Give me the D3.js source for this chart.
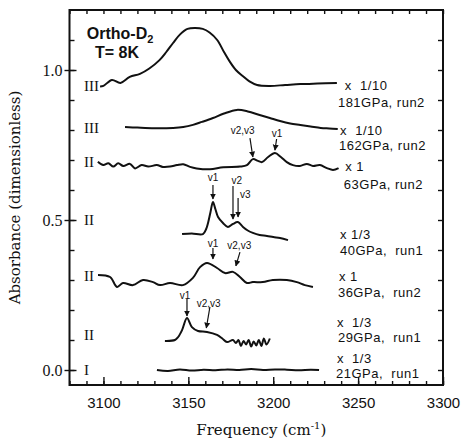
<!DOCTYPE html>
<html>
<head>
<meta charset="utf-8">
<title>Ortho-D2 absorbance</title>
<script src="https://d3js.org/d3.v7.min.js"></script>
<style>
  body { margin: 0; background: #fff; }
  text { fill: #111; }
</style>
</head>
<body>
<div id="graph"></div>
<script>
// spectra: frequency (cm-1) and absorbance incl. vertical offset
var f181 = [3098, 3100, 3105, 3110, 3115.5, 3121.5, 3127, 3133, 3137, 3141, 3145, 3149.5, 3154, 3158.5, 3162.5, 3167, 3171, 3174.5, 3178, 3182, 3186, 3190.5, 3198, 3207, 3216, 3226, 3237.5];
var a181 = [0.945, 0.947, 0.967, 0.957, 0.977, 0.987, 1.005, 1.033, 1.06, 1.09, 1.118, 1.137, 1.14, 1.137, 1.125, 1.1, 1.06, 1.027, 1.0, 0.98, 0.962, 0.95, 0.947, 0.95, 0.953, 0.955, 0.957];

var f162 = [3112.7, 3120, 3130, 3141, 3147, 3152.7, 3158, 3164.5, 3171, 3178.6, 3185, 3192, 3198, 3204, 3210, 3216, 3222, 3228, 3233, 3238];
var a162 = [0.81, 0.808, 0.806, 0.807, 0.81, 0.817, 0.827, 0.84, 0.855, 0.867, 0.862, 0.85, 0.84, 0.83, 0.822, 0.817, 0.812, 0.807, 0.805, 0.803];

var f63 = [3096.7, 3099.9, 3102.9, 3105.8, 3108.7, 3111.7, 3115.6, 3118.6, 3122.5, 3126.4, 3131.4, 3135, 3139.2, 3143.3, 3147, 3151, 3154.9, 3162.7, 3170.6, 3180.4, 3184.5, 3188, 3191, 3193.4, 3197, 3201, 3204.5, 3208, 3211.6, 3215.7, 3219.8, 3223.4, 3227.5, 3231.6, 3235.2, 3238.5];
var a63 = [0.694, 0.683, 0.689, 0.678, 0.689, 0.68, 0.687, 0.672, 0.683, 0.678, 0.683, 0.677, 0.678, 0.683, 0.686, 0.677, 0.672, 0.669, 0.676, 0.678, 0.683, 0.703, 0.697, 0.693, 0.71, 0.723, 0.71, 0.693, 0.683, 0.68, 0.687, 0.68, 0.683, 0.673, 0.667, 0.673];

var f40 = [3146.3, 3152, 3158.6, 3160.5, 3161.6, 3163, 3164.5, 3166, 3167.5, 3170.4, 3173.3, 3176.3, 3179.2, 3182.2, 3185, 3188, 3192, 3196.3, 3200, 3204, 3208.7];
var a40 = [0.453, 0.455, 0.453, 0.47, 0.49, 0.525, 0.56, 0.535, 0.51, 0.49, 0.477, 0.487, 0.493, 0.477, 0.465, 0.457, 0.45, 0.447, 0.443, 0.44, 0.433];

var f36 = [3096.8, 3103.9, 3108, 3111.5, 3117.4, 3123.3, 3129.2, 3133.3, 3139.2, 3146.8, 3152.7, 3156.9, 3161, 3166.9, 3171.6, 3176.3, 3180.4, 3184.5, 3188, 3193.9, 3199.8, 3208, 3213.9, 3218.6, 3223.4];
var a36 = [0.317, 0.31, 0.277, 0.29, 0.283, 0.3, 0.293, 0.283, 0.29, 0.283, 0.307, 0.343, 0.357, 0.34, 0.323, 0.327, 0.31, 0.29, 0.293, 0.293, 0.3, 0.3, 0.293, 0.283, 0.277];

var f29 = [3136.2, 3142.1, 3144, 3146.3, 3149.2, 3152.1, 3155.7, 3161, 3166.9, 3170, 3172.8, 3176.3, 3178, 3179.5, 3181, 3182.5, 3184, 3185.5, 3187, 3188.5, 3190, 3191.5, 3193, 3194.5, 3196, 3198];
var a29 = [0.097, 0.1, 0.11, 0.133, 0.173, 0.143, 0.13, 0.127, 0.117, 0.105, 0.093, 0.1, 0.09, 0.1, 0.08, 0.097, 0.085, 0.1, 0.078, 0.095, 0.082, 0.1, 0.08, 0.105, 0.085, 0.105];

var f21 = [3131.5, 3138, 3145, 3152, 3159, 3166, 3173, 3180, 3187, 3194, 3201, 3208, 3215, 3222, 3227];
var a21 = [0.0, -0.003, 0.002, -0.002, 0.001, -0.001, 0.002, 0.0, 0.003, 0.0, 0.002, 0.001, -0.001, 0.001, 0.0];

// phase label, scale factor and run for each trace
var phases = ["III", "III", "II", "II", "II", "II", "I"];
var phaseLevel = [0.947, 0.807, 0.693, 0.5, 0.313, 0.117, 0.0];
var factors = ["x  1/10", "x  1/10", "x 1", "x 1/3", "x 1", "x  1/3", "x  1/3"];
var factorF = [3242.2, 3239.3, 3242.4, 3239.3, 3238.7, 3237.5, 3237.5];
var factorLevel = [0.95, 0.8, 0.678, 0.452, 0.313, 0.16, 0.04];
var runs = ["181GPa, run2", "162GPa, run2", "63GPa, run2", "40GPa,  run1", "36GPa,  run2", "29GPa,  run1", "21GPa,  run1"];
var runF = [3238.1, 3238.7, 3241.6, 3239.3, 3238.1, 3238.1, 3237];
var runLevel = [0.893, 0.747, 0.617, 0.4, 0.258, 0.107, -0.013];

// vibron arrows: label, label position, arrow tail and tip
var vLabels = ["v1", "v2,v3", "v1", "v2", "v3", "v1", "v2,v3", "v1", "v2,v3"];
var vLabelF = [3202.2, 3182, 3164.5, 3178.6, 3183.6, 3164.5, 3180, 3148, 3162];
var vLabelA = [0.79, 0.8, 0.643, 0.633, 0.587, 0.423, 0.417, 0.25, 0.223];
var vTailF = [3202, 3186.3, 3164.5, 3176.3, 3179.3, 3164.5, 3180.4, 3149.2, 3162.7];
var vTailA = [0.77, 0.773, 0.617, 0.613, 0.573, 0.407, 0.393, 0.237, 0.21];
var vTipF = [3201, 3188, 3164.5, 3176.3, 3179.3, 3164.5, 3178, 3149.2, 3160.6];
var vTipA = [0.733, 0.71, 0.57, 0.503, 0.51, 0.37, 0.347, 0.18, 0.14];

var xTicks = [3100, 3150, 3200, 3250, 3300];
var yTicks = [0.0, 0.5, 1.0];

var margin = {top: 10, right: 18, bottom: 53, left: 69.5};
var width = 461 - margin.left - margin.right;
var height = 438 - margin.top - margin.bottom;

var svg = d3.select("#graph")
    .append("svg")
    .attr("width", 461)
    .attr("height", 438)
    .append("g")
    .attr("transform", "translate(" + margin.left + "," + margin.top + ")");

var x = d3.scaleLinear().domain([3080, 3300]).range([0, width]);
var y = d3.scaleLinear().domain([-0.05, 1.2]).range([height, 0]);

var minorX = d3.range(3080, 3301, 10);
var minorY = d3.range(0, 1.15, 0.1);

// minor ticks, inside the frame on all four sides
svg.append("g").attr("transform", "translate(0," + height + ")")
    .call(d3.axisBottom(x).tickValues(minorX).tickSizeInner(-4).tickSizeOuter(0).tickFormat(""));
svg.append("g")
    .call(d3.axisTop(x).tickValues(minorX).tickSizeInner(-4).tickSizeOuter(0).tickFormat(""));
svg.append("g")
    .call(d3.axisLeft(y).tickValues(minorY).tickSizeInner(-5).tickSizeOuter(0).tickFormat(""));
svg.append("g").attr("transform", "translate(" + width + ",0)")
    .call(d3.axisRight(y).tickValues(minorY).tickSizeInner(-5).tickSizeOuter(0).tickFormat(""));

// major ticks with labels
var xAxis = svg.append("g").attr("transform", "translate(0," + height + ")")
    .call(d3.axisBottom(x).tickValues(xTicks).tickSizeInner(-8).tickSizeOuter(0).tickPadding(12)
        .tickFormat(d3.format("d")));
xAxis.selectAll("text")
    .style("font-family", "'Liberation Sans', Arial, sans-serif")
    .style("font-size", "15px");

var yAxis = svg.append("g")
    .call(d3.axisLeft(y).tickValues(yTicks).tickSizeInner(5).tickSizeOuter(0).tickPadding(2)
        .tickFormat(d3.format(".1f")));
yAxis.selectAll("text")
    .style("font-family", "'Liberation Serif', 'Times New Roman', serif")
    .style("font-size", "16px");
yAxis.selectAll(".tick line").attr("x2", 7).attr("x1", -5);

svg.selectAll(".domain").remove();
svg.selectAll(".tick line").attr("stroke", "#111").attr("stroke-width", 1.4);

// frame
svg.append("rect")
    .attr("width", width).attr("height", height)
    .attr("fill", "none").attr("stroke", "#111").attr("stroke-width", 2);

// spectra
var traces = [[f181, a181], [f162, a162], [f63, a63], [f40, a40], [f36, a36], [f29, a29], [f21, a21]];
var line = d3.line()
    .x(function(d) { return x(d[0]); })
    .y(function(d) { return y(d[1]); })
    .curve(d3.curveCatmullRom.alpha(0.5));

svg.append("g").selectAll("path")
    .data(traces)
    .enter()
    .append("path")
    .attr("d", function(t) { return line(t[0].map(function(f, i) { return [f, t[1][i]]; })); })
    .attr("fill", "none")
    .attr("stroke", "#111")
    .attr("stroke-width", 2)
    .attr("stroke-linejoin", "round");

// phase labels on the left
svg.append("g").selectAll("text")
    .data(phases)
    .enter()
    .append("text")
    .attr("x", x(3088.5))
    .attr("y", function(d, i) { return y(phaseLevel[i]) + 5; })
    .style("font-family", "'Liberation Serif', 'Times New Roman', serif")
    .style("font-size", "15px")
    .text(function(d) { return d; });

// scale factor and pressure labels on the right
var sans = "'Liberation Sans', Arial, sans-serif";
svg.append("g").selectAll("text")
    .data(factors)
    .enter()
    .append("text")
    .attr("x", function(d, i) { return x(factorF[i]); })
    .attr("y", function(d, i) { return y(factorLevel[i]) + 4.5; })
    .style("font-family", sans)
    .style("font-size", "13px")
    .style("letter-spacing", "0.5px")
    .style("white-space", "pre")
    .text(function(d) { return d; });

svg.append("g").selectAll("text")
    .data(runs)
    .enter()
    .append("text")
    .attr("x", function(d, i) { return x(runF[i]); })
    .attr("y", function(d, i) { return y(runLevel[i]) + 4.5; })
    .style("font-family", sans)
    .style("font-size", "13px")
    .style("letter-spacing", "0.5px")
    .style("white-space", "pre")
    .text(function(d) { return d; });

// arrows marking the vibron modes
svg.append("defs").append("marker")
    .attr("id", "head")
    .attr("viewBox", "0 0 10 10")
    .attr("refX", 9).attr("refY", 5)
    .attr("markerWidth", 6).attr("markerHeight", 7)
    .attr("markerUnits", "userSpaceOnUse")
    .attr("orient", "auto")
    .append("path")
    .attr("d", "M0,0 L10,5 L0,10 z")
    .attr("fill", "#111");

svg.append("g").selectAll("line")
    .data(vLabels)
    .enter()
    .append("line")
    .attr("x1", function(d, i) { return x(vTailF[i]); })
    .attr("y1", function(d, i) { return y(vTailA[i]); })
    .attr("x2", function(d, i) { return x(vTipF[i]); })
    .attr("y2", function(d, i) { return y(vTipA[i]); })
    .attr("stroke", "#111")
    .attr("stroke-width", 1.2)
    .attr("marker-end", "url(#head)");

svg.append("g").selectAll("text")
    .data(vLabels)
    .enter()
    .append("text")
    .attr("x", function(d, i) { return x(vLabelF[i]); })
    .attr("y", function(d, i) { return y(vLabelA[i]) + 4; })
    .attr("text-anchor", "middle")
    .style("font-family", sans)
    .style("font-size", "10px")
    .text(function(d) { return d; });

// sample title
var title = svg.append("text")
    .attr("x", x(3109.8))
    .attr("y", y(1.105))
    .attr("text-anchor", "middle")
    .style("font-family", sans)
    .style("font-weight", "bold")
    .style("font-size", "16px");
title.append("tspan").text("Ortho-D");
title.append("tspan").attr("font-size", "11px").attr("dy", 4).text("2");
svg.append("text")
    .attr("x", x(3108))
    .attr("y", y(1.04))
    .attr("text-anchor", "middle")
    .style("font-family", sans)
    .style("font-weight", "bold")
    .style("font-size", "16px")
    .text("T= 8K");

// axis titles
var xt = svg.append("text")
    .attr("x", width / 2 + 5)
    .attr("y", height + 50)
    .attr("text-anchor", "middle")
    .style("font-family", "'DejaVu Serif', serif")
    .style("font-size", "15px");
xt.append("tspan").text("Frequency (cm");
xt.append("tspan").attr("font-size", "10px").attr("dy", -6).text("-1");
xt.append("tspan").attr("dy", 6).text(")");

svg.append("text")
    .attr("transform", "translate(" + (-50) + "," + (height / 2) + ") rotate(-90)")
    .attr("text-anchor", "middle")
    .style("font-family", "'DejaVu Serif', serif")
    .style("font-size", "15px")
    .text("Absorbance (dimensionless)");
</script>
</body>
</html>
